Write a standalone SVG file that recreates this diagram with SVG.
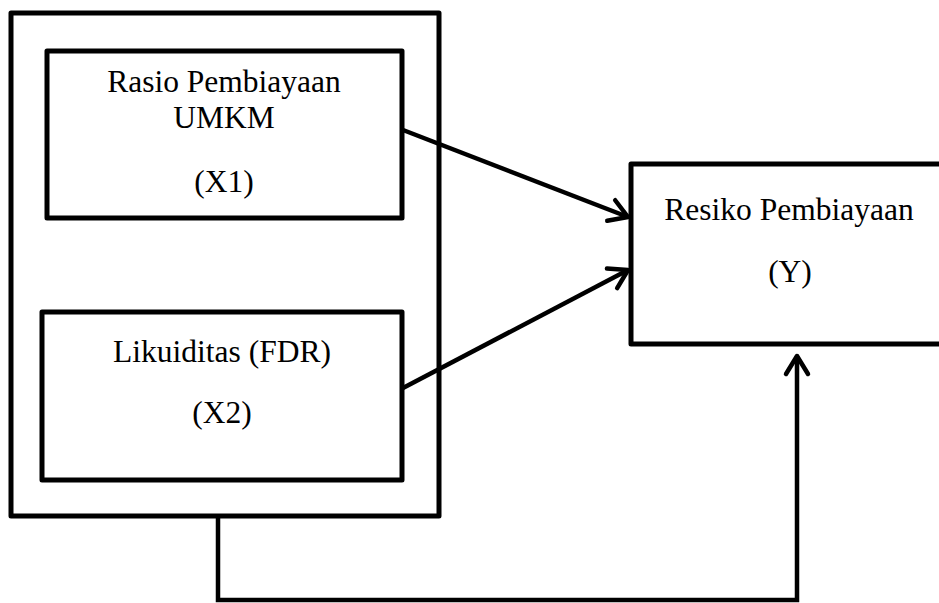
<svg xmlns="http://www.w3.org/2000/svg" width="939" height="603" viewBox="0 0 939 603">
<style>
.box{fill:#fff;stroke:#000;stroke-width:5;stroke-linejoin:round}
.con{fill:none;stroke:#000;stroke-width:4.5;stroke-linejoin:miter}
text{font-family:"Liberation Serif","Times New Roman",serif;font-size:31.5px;fill:#000;text-anchor:middle}
</style>
<defs>
<marker id="arr" markerUnits="userSpaceOnUse" markerWidth="30" markerHeight="30" viewBox="-22 -15 30 30" refX="0" refY="0" orient="auto" overflow="visible">
<path d="M-18,-11 L0,0 L-18,11" fill="none" stroke="#000" stroke-width="4.5" stroke-linecap="round" stroke-linejoin="round"/>
</marker>
</defs>
<rect width="939" height="603" fill="#fff"/>
<g id="group-X">
<rect class="box" x="11" y="13" width="428" height="503"/>
</g>
<g id="node-X1">
<rect class="box" x="47" y="51" width="355" height="167"/>
<text x="224" y="92">Rasio Pembiayaan</text>
<text x="224" y="128">UMKM</text>
<text x="224" y="192">(X1)</text>
</g>
<g id="node-X2">
<rect class="box" x="42" y="312" width="360" height="168"/>
<text x="222" y="362">Likuiditas (FDR)</text>
<text x="222" y="423">(X2)</text>
</g>
<g id="node-Y">
<rect class="box" x="631" y="164" width="320" height="180"/>
<text x="789" y="220">Resiko Pembiayaan</text>
<text x="790" y="282">(Y)</text>
</g>
<g id="connectors">
<line class="con" x1="403" y1="130" x2="628" y2="217" marker-end="url(#arr)"/>
<line class="con" x1="403" y1="388" x2="628" y2="270" marker-end="url(#arr)"/>
<path class="con" d="M218,516 V600 H797 V356" marker-end="url(#arr)"/>
</g>
</svg>
